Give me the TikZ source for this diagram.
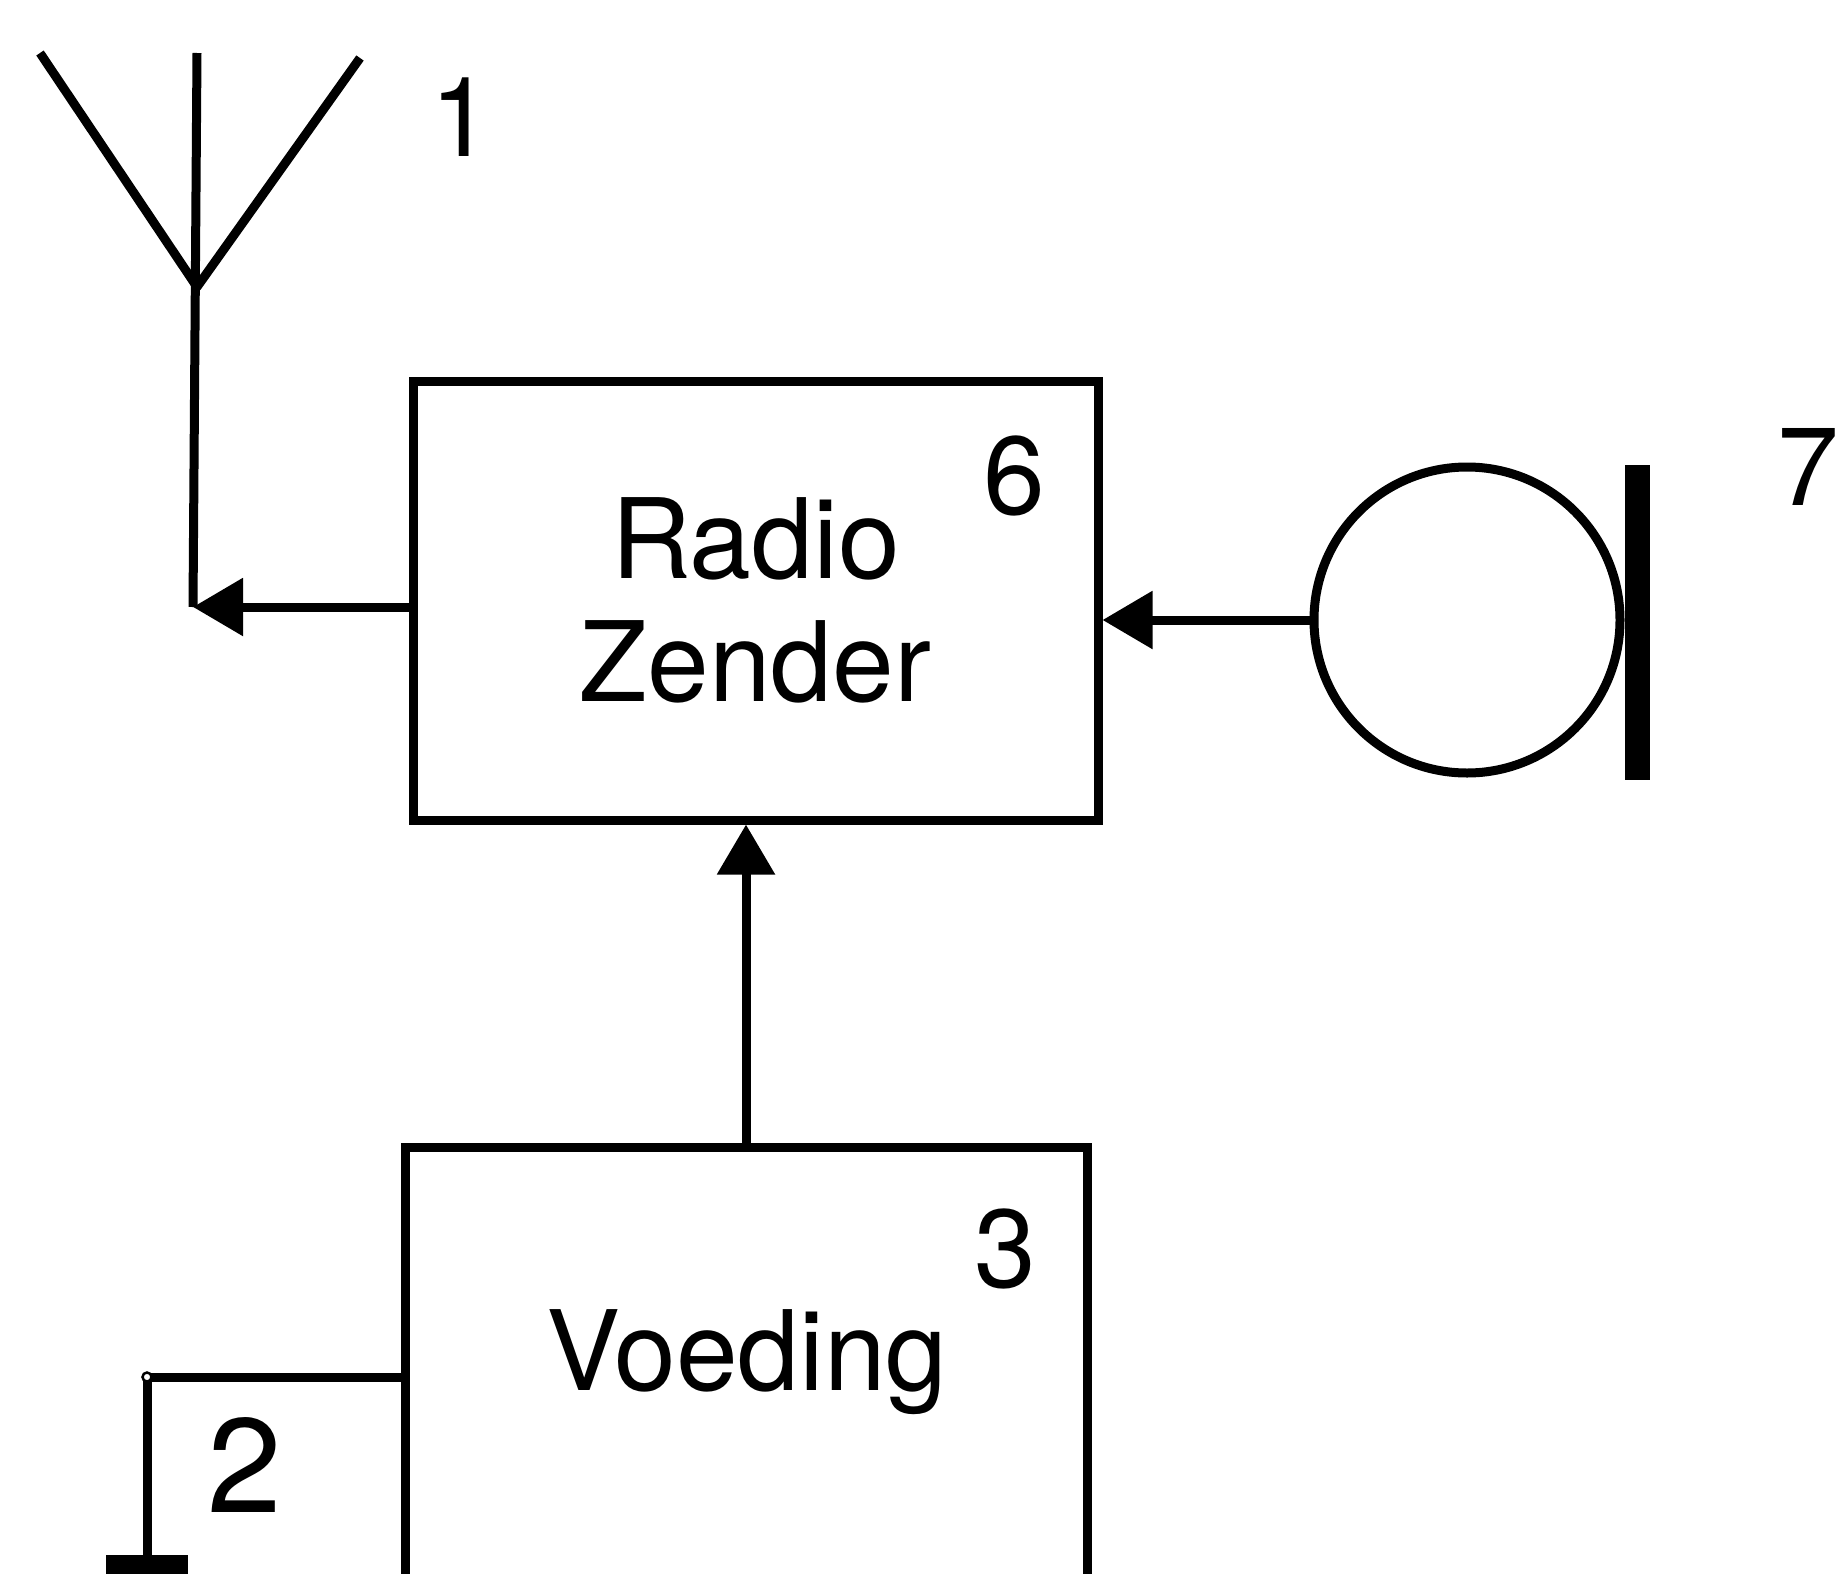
\documentclass[tikz,border=0pt]{standalone}
\usepackage{fontspec}
\setmainfont{TeX Gyre Heros}
\usetikzlibrary{arrows.meta}
\tikzset{
blok/.style={draw, rectangle, line width=9pt, inner sep=0pt}, % de twee blokken
lijn/.style={line width=9pt, line join=round}, % gewone verbinding
pijl/.style={line width=9pt, -{Triangle[length=50pt,width=56pt]}}, % verbinding met pijl
cijfer/.style={inner sep=0pt, font=\fontsize{111}{123}\selectfont}, % tekst en nummers
}

\begin{document}
\begin{tikzpicture}[x=1pt,y=1pt,yscale=-1,xscale=1]
\useasboundingbox (0,0) rectangle (1842,1574);
%Blokken
\node[blok, cijfer, align=center, minimum width=685pt, minimum height=439pt] (zender) at (755.5,600.5) {Radio\\Zender};
\node[blok, minimum width=682pt, minimum height=600pt] (voeding) at (746,1447) {};
\node[cijfer, anchor=base] (voedingtekst) at (747,1390) {Voeding};
%Microfoon
\node[circle, draw, line width=9pt, minimum size=306pt, inner sep=0pt] (mic) at (1467,620) {};
\node[rectangle, fill=black, minimum width=25pt, minimum height=315pt, inner sep=0pt] (micplaat) at (1637.5,622.5) {};
%Antenne
\coordinate (antvoet) at (193,607);
\coordinate (antpunt) at (197,287);
\draw[lijn] (antvoet) -- (197,53);
\draw[lijn] (40,53) -- (antpunt) -- (360,58);
%Aarde
\coordinate (aardpunt) at (147,1377);
\node[rectangle, fill=black, minimum width=82pt, minimum height=40pt, inner sep=0pt] (aarde) at (147,1575) {};
\draw[lijn] (voeding.west |- aardpunt) -- (aardpunt) -- (aarde.north);
\node[circle, draw, fill=white, line width=2.5pt, minimum size=9pt, inner sep=0pt] (aardknoop) at (aardpunt) {};
%Pijlen
\draw[pijl] (zender.west |- antvoet) -- (antvoet);
\draw[pijl] (mic.west) -- (zender.east |- mic.west);
\draw[pijl] (voeding.north) -- (zender.south -| voeding.north);
%Nummers
\node[cijfer] (nr1) at (461,117) {1};
\node[cijfer, font=\fontsize{134}{150}\selectfont] (nr2) at (245,1465) {2};
\node[cijfer] (nr3) at (1005,1249) {3};
\node[cijfer] (nr6) at (1014,476) {6};
\node[cijfer] (nr7) at (1808,467) {7};
\end{tikzpicture}
\end{document}
